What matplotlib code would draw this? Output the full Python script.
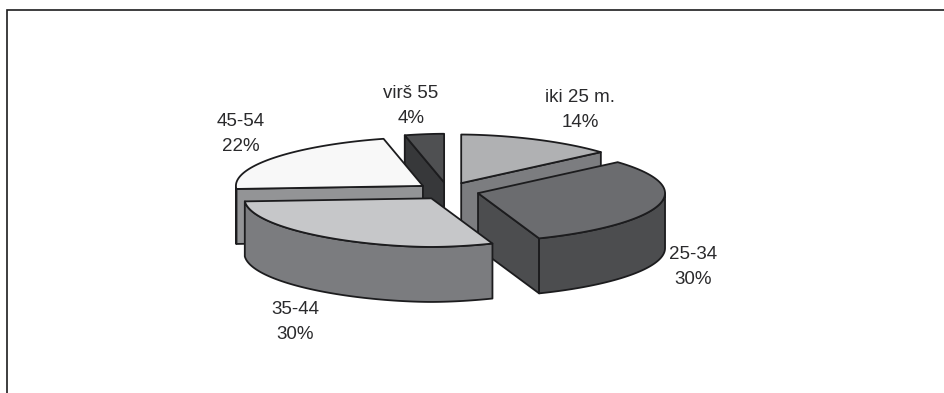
import matplotlib
matplotlib.use("Agg")

import matplotlib.pyplot as plt
import numpy as np

plt.rcParams["font.family"] = ["Liberation Sans", "DejaVu Sans"]

# ── Data ──────────────────────────────────────────────────────────────────────
GROUPS = ["iki 25 m.", "25-34", "35-44", "45-54", "virš 55"]
SHARES = [14, 30, 30, 22, 4]

# ── Styles, one entry per group ───────────────────────────────────────────────
TOP_COLORS = ["#b0b1b3", "#6b6c6f", "#c6c7c9", "#f8f8f8", "#4f5052"]
SIDE_COLORS = ["#7c7d80", "#4c4d4f", "#7b7c7f", "#939496", "#37383a"]
LABEL_XY = [(580, 110), (693, 267), (295, 322), (241, 134), (411, 106)]
DRAW_ORDER = [4, 0, 3, 1, 2]  # back slices first

EDGE = "#1c1c1e"
TEXT = "#2a2a2c"

# pie geometry in pixels
CX, CY = 448, 191
RX, SQUASH = 187, 0.26
RY = RX * SQUASH
EXPLODE = 31
DEPTH = 55
ROUNDNESS = 1.12  # above 1 makes the rim a little boxier


def rim(apex, t):
    # t is clockwise from 12 o'clock, radians
    s = np.sin(t)
    return apex[0] + RX * np.sign(s) * np.abs(s) ** ROUNDNESS, apex[1] - RY * np.cos(t)


def face(ax, xs, ys, color):
    ax.fill(xs, ys, facecolor=color, edgecolor=EDGE, linewidth=1.3, joinstyle="round")


def draw_slice(ax, start, end, top_color, side_color):
    mid = (start + end) / 2
    apex = (CX + EXPLODE * np.sin(mid), CY - EXPLODE * 0.28 * np.cos(mid))

    # radial cut faces, only the ones turned to the viewer
    if np.sin(start) < -1e-9:
        x, y = rim(apex, start)
        face(ax, [apex[0], x, x, apex[0]], [apex[1], y, y + DEPTH, apex[1] + DEPTH], side_color)
    if np.sin(end) > 1e-9:
        x, y = rim(apex, end)
        face(ax, [apex[0], x, x, apex[0]], [apex[1], y, y + DEPTH, apex[1] + DEPTH], side_color)

    # outer wall, front half of the rim only
    lo, hi = max(start, np.pi / 2), min(end, 3 * np.pi / 2)
    if hi > lo:
        t = np.linspace(lo, hi, 80)
        x, y = rim(apex, t)
        face(ax, np.r_[x, x[::-1]], np.r_[y, (y + DEPTH)[::-1]], side_color)

    t = np.linspace(start, end, 80)
    x, y = rim(apex, t)
    face(ax, np.r_[apex[0], x], np.r_[apex[1], y], top_color)


fig = plt.figure(figsize=(9.44, 3.93), dpi=100, facecolor="white")
ax = fig.add_axes([0, 0, 1, 1])
ax.set_xlim(0, 944)
ax.set_ylim(393, 0)
ax.axis("off")

# outer frame, open at the bottom and right where the page is cut
ax.plot([6.5, 6.5, 944], [393, 9.5, 9.5], color=EDGE, linewidth=1.2, solid_joinstyle="miter")

edges = np.r_[0, np.cumsum(SHARES)] / np.sum(SHARES) * 2 * np.pi
for i in DRAW_ORDER:
    draw_slice(ax, edges[i], edges[i + 1], TOP_COLORS[i], SIDE_COLORS[i])

for name, share, (x, y) in zip(GROUPS, SHARES, LABEL_XY):
    ax.text(x, y, f"{name}\n{share}%", ha="center", va="center", multialignment="center",
            fontsize=13.5, color=TEXT, linespacing=1.62)

fig.savefig("out.png", dpi=100, facecolor="white")
plt.close(fig)
